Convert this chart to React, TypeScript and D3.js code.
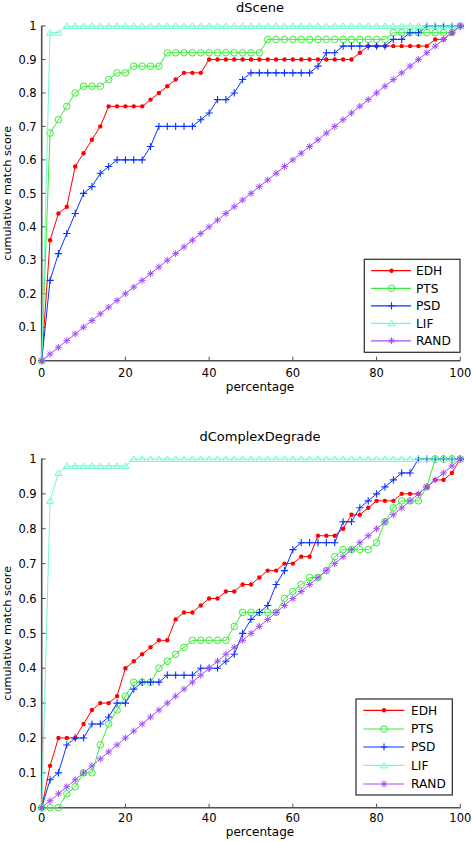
import React from 'react';
import * as d3 from 'd3';

// ---------- DATA ----------
const percentage = [0, 2, 4, 6, 8, 10, 12, 14, 16, 18, 20, 22, 24, 26, 28, 30, 32, 34, 36, 38, 40, 42, 44, 46, 48, 50,
  52, 54, 56, 58, 60, 62, 64, 66, 68, 70, 72, 74, 76, 78, 80, 82, 84, 86, 88, 90, 92, 94, 96, 98, 100];

const seriesNames = ['EDH', 'PTS', 'PSD', 'LIF', 'RAND'];

const randScores = [0, .02, .04, .06, .08, .10, .12, .14, .16, .18, .20, .22, .24, .26, .28, .30, .32, .34, .36, .38, .40,
  .42, .44, .46, .48, .50, .52, .54, .56, .58, .60, .62, .64, .66, .68, .70, .72, .74, .76, .78, .80, .82, .84, .86, .88,
  .90, .92, .94, .96, .98, 1];

// dScene
const sceneEDH = [0, .36, .44, .46, .58, .62, .66, .70, .76, .76, .76, .76, .76, .78, .80, .82, .84, .86, .86, .86,
  .90, .90, .90, .90, .90, .90, .90, .90, .90, .90, .90, .90, .90, .90, .90, .90, .90, .90,
  .92, .94, .94, .94, .94, .94, .94, .94, .94, .96, .96, .98, 1];
const scenePTS = [0, .68, .72, .76, .80, .82, .82, .82, .84, .86, .86, .88, .88, .88, .88,
  .92, .92, .92, .92, .92, .92, .92, .92, .92, .92, .92, .92,
  .96, .96, .96, .96, .96, .96, .96, .96, .96, .96, .96, .96, .96, .96, .96,
  .98, .98, .98, .98, .98, .98, .98, .98, 1];
const scenePSD = [0, .24, .32, .38, .44, .50, .52, .56, .58, .60, .60, .60, .60, .64, .70, .70, .70, .70, .70, .72, .74,
  .78, .78, .80, .84, .86, .86, .86, .86, .86, .86, .86, .86, .88, .92, .92, .94, .94, .94, .94, .94, .94, .96, .96,
  .98, .98, 1, 1, 1, 1, 1];
const sceneLIF = [0, .98, .98, 1, 1, 1, 1, 1, 1, 1, 1, 1, 1, 1, 1, 1, 1, 1, 1, 1, 1, 1, 1, 1, 1, 1, 1, 1, 1, 1, 1, 1,
  1, 1, 1, 1, 1, 1, 1, 1, 1, 1, 1, 1, 1, 1, 1, 1, 1, 1, 1];
const sceneRAND = randScores;

// dComplexDegrade
const degradeEDH = [0, .12, .20, .20, .20, .24, .28, .30, .30, .32, .40, .42, .44, .46, .48, .48, .54, .56, .56, .58,
  .60, .60, .62, .62, .64, .64, .66, .68, .68, .70, .70, .72, .72, .78, .78, .78, .80, .84, .84, .86, .88, .88, .88,
  .90, .90, .90, .92, .94, .94, .96, 1];
const degradePTS = [0, 0, 0, .04, .06, .10, .10, .18, .24, .28, .32, .36, .36, .36, .40, .42, .44, .46, .48, .48, .48,
  .48, .48, .52, .56, .56, .56, .56, .56, .60, .62, .64, .66, .66, .68, .72, .74, .74, .74, .74, .76, .82, .86, .88,
  .88, .88, .92, 1, 1, 1, 1];
const degradePSD = [0, .08, .10, .18, .20, .20, .24, .24, .26, .30, .30, .34, .36, .36, .36, .38, .38, .38, .38, .40,
  .40, .40, .42, .44, .50, .54, .56, .58, .64, .68, .74, .76, .76, .76, .76, .76, .82, .82, .86, .88, .90, .92, .94,
  .96, .96, 1, 1, 1, 1, 1, 1];
const degradeLIF = [0, .88, .96, .98, .98, .98, .98, .98, .98, .98, .98, 1, 1, 1, 1, 1, 1, 1, 1, 1, 1, 1, 1, 1, 1, 1,
  1, 1, 1, 1, 1, 1, 1, 1, 1, 1, 1, 1, 1, 1, 1, 1, 1, 1, 1, 1, 1, 1, 1, 1, 1];
const degradeRAND = randScores;

const xTickValues = [0, 20, 40, 60, 80, 100];
const yTickValues = [0, 0.1, 0.2, 0.3, 0.4, 0.5, 0.6, 0.7, 0.8, 0.9, 1];
const yTickLabels = ['0', '0.1', '0.2', '0.3', '0.4', '0.5', '0.6', '0.7', '0.8', '0.9', '1'];

// ---------- STYLE ----------
const FONT = '"DejaVu Sans", "Liberation Sans", Arial, sans-serif';
const styles: Record<string, { color: string; marker: string }> = {
  EDH: { color: '#ff0000', marker: 'dot' },
  PTS: { color: '#36f036', marker: 'circle' },
  PSD: { color: '#0a32ff', marker: 'plus' },
  LIF: { color: '#70fcc4', marker: 'triangle' },
  RAND: { color: '#a44cff', marker: 'asterisk' },
};

function Marker({ type, color, x, y }: { type: string; color: string; x: number; y: number }) {
  const t = `translate(${x},${y})`;
  if (type === 'dot') return <circle cx={x} cy={y} r={2.2} fill={color} />;
  if (type === 'circle') return <circle cx={x} cy={y} r={3.3} fill="none" stroke={color} strokeWidth={1} />;
  if (type === 'plus') return <path transform={t} d="M-3.6,0H3.6M0,-3.6V3.6" stroke={color} strokeWidth={1.1} fill="none" />;
  if (type === 'triangle') return <path transform={t} d="M0,-3.1L3.6,2.5L-3.6,2.5Z" stroke={color} strokeWidth={1} fill="none" />;
  return <path transform={t} d="M-3.4,0H3.4M0,-3.4V3.4M-2.5,-2.5L2.5,2.5M-2.5,2.5L2.5,-2.5" stroke={color} strokeWidth={1} fill="none" />;
}

type PanelProps = {
  title: string;
  data: number[][];
  left: number; right: number; top: number; bottom: number;
  titleY: number; tickLabelY: number; xLabelY: number;
  legend: { x0: number; x1: number; y0: number; y1: number; rows: number[]; lineX0: number; lineX1: number; markX: number; textX: number };
};

function Panel(p: PanelProps) {
  const x = d3.scaleLinear().domain([0, 100]).range([p.left, p.right]);
  const y = d3.scaleLinear().domain([0, 1]).range([p.bottom, p.top]);
  const line = d3.line<number>().x((_, i) => x(percentage[i])).y((d) => y(d));
  const axisColor = '#505050';
  const cx = (p.left + p.right) / 2;
  return (
    <g>
      <text x={cx + 9} y={p.titleY} fontFamily={FONT} fontSize={13} textAnchor="middle" fill="#000">{p.title}</text>
      {/* axes */}
      <line x1={p.left} x2={p.left} y1={p.top - 0.5} y2={p.bottom} stroke={axisColor} strokeWidth={1.6} />
      <line x1={p.left} x2={p.right} y1={p.bottom} y2={p.bottom} stroke={axisColor} strokeWidth={1.4} />
      {xTickValues.map((v) => (
        <g key={'xt' + v}>
          <line x1={x(v)} x2={x(v)} y1={p.bottom} y2={p.bottom - 4} stroke={axisColor} strokeWidth={1} />
          <text x={x(v)} y={p.tickLabelY} fontFamily={FONT} fontSize={11.5} textAnchor="middle" fill="#000">{v}</text>
        </g>
      ))}
      {yTickValues.map((v, i) => (
        <g key={'yt' + v}>
          <line x1={p.left} x2={p.left + 4} y1={y(v)} y2={y(v)} stroke={axisColor} strokeWidth={1} />
          <text x={p.left - 5} y={y(v) + 4.2} fontFamily={FONT} fontSize={11.5} textAnchor="end" fill="#000">{yTickLabels[i]}</text>
        </g>
      ))}
      <text x={cx + 9} y={p.xLabelY} fontFamily={FONT} fontSize={12} textAnchor="middle" fill="#000">percentage</text>
      <text transform={`translate(10.5,${(p.top + p.bottom) / 2}) rotate(-90)`} fontFamily={FONT} fontSize={11.2} textAnchor="middle" fill="#000">cumulative match score</text>
      {/* series */}
      {p.data.map((vals, si) => {
        const st = styles[seriesNames[si]];
        return (
          <g key={seriesNames[si]}>
            <path d={line(vals) || ''} fill="none" stroke={st.color} strokeWidth={1} />
            {vals.map((v, i) => (
              <Marker key={i} type={st.marker} color={st.color} x={x(percentage[i])} y={y(v)} />
            ))}
          </g>
        );
      })}
      {/* legend */}
      <rect x={p.legend.x0} y={p.legend.y0} width={p.legend.x1 - p.legend.x0} height={p.legend.y1 - p.legend.y0}
        fill="#fff" stroke="#2a2a2a" strokeWidth={1.2} />
      {seriesNames.map((n, i) => {
        const st = styles[n];
        const ry = p.legend.rows[i];
        return (
          <g key={'lg' + n}>
            <line x1={p.legend.lineX0} x2={p.legend.lineX1} y1={ry} y2={ry} stroke={st.color} strokeWidth={1.2} />
            <Marker type={st.marker} color={st.color} x={p.legend.markX} y={ry} />
            <text x={p.legend.textX} y={ry + 4.4} fontFamily={FONT} fontSize={12.2} fill="#000">{n}</text>
          </g>
        );
      })}
    </g>
  );
}

export default function App() {
  return (
    <svg width={472} height={842} style={{ position: 'absolute', left: 0, top: 0, background: '#fff' }}>
      <rect width={472} height={842} fill="#fff" />
      <Panel
        title="dScene"
        data={[sceneEDH, scenePTS, scenePSD, sceneLIF, sceneRAND]}
        left={41.7} right={460.3} top={26} bottom={360.7}
        titleY={12} tickLabelY={377} xLabelY={391}
        legend={{ x0: 364.3, x1: 460, y0: 259.3, y1: 352.3, rows: [270.7, 288.3, 305.8, 323.3, 340.8], lineX0: 371, lineX1: 411, markX: 391.5, textX: 416 }}
      />
      <Panel
        title="dComplexDegrade"
        data={[degradeEDH, degradePTS, degradePSD, degradeLIF, degradeRAND]}
        left={41.7} right={460.3} top={459} bottom={807.7}
        titleY={441} tickLabelY={822} xLabelY={836}
        legend={{ x0: 356, x1: 452.3, y0: 699, y1: 795, rows: [710.3, 729, 747, 765.3, 784], lineX0: 363.3, lineX1: 404.3, markX: 384, textX: 411 }}
      />
    </svg>
  );
}
